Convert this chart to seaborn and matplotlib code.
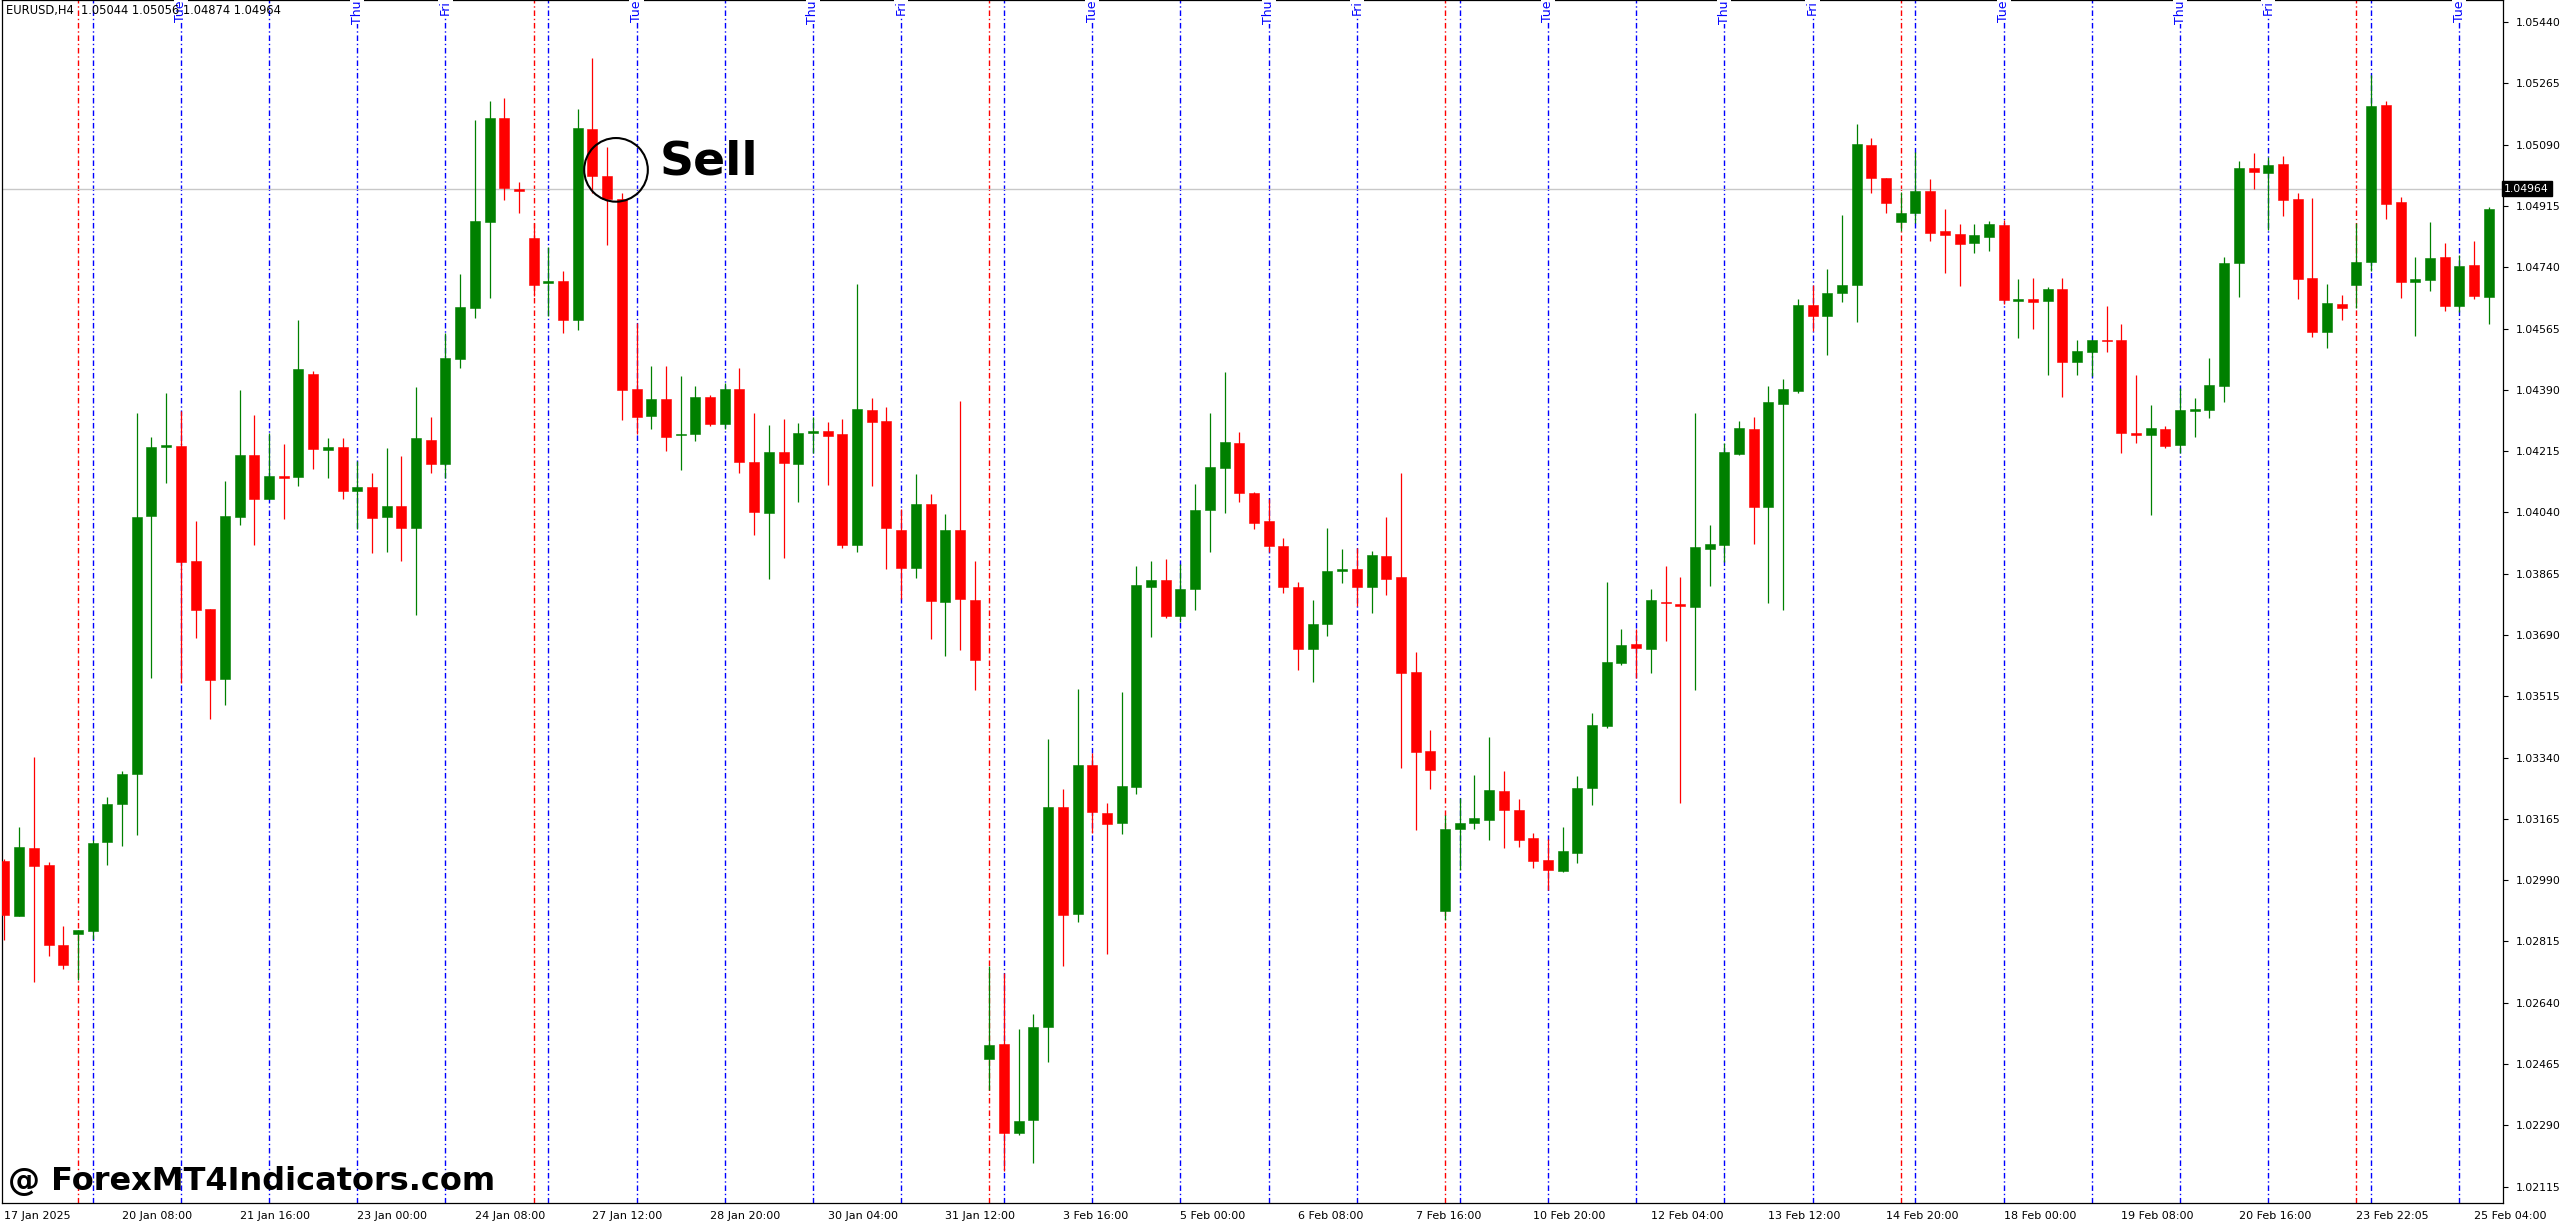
import numpy as np
import pandas as pd
import matplotlib
matplotlib.use("Agg")
import matplotlib.pyplot as plt
import matplotlib.transforms as mtransforms
import seaborn as sns

# EURUSD H4 candles (one entry per bar, left to right)
opens = [
    1.03044, 1.02888, 1.03081, 1.03032, 1.02806, 1.02837, 1.02846, 1.03098, 1.03206, 1.03292,
    1.04030, 1.04227, 1.04230, 1.03902, 1.03763, 1.03565, 1.04027, 1.04203, 1.04079, 1.04141,
    1.04140, 1.04435, 1.04219, 1.04226, 1.04101, 1.04113, 1.04028, 1.04057, 1.03996, 1.04248,
    1.04179, 1.04477, 1.04623, 1.04870, 1.05167, 1.04963, 1.04823, 1.04694, 1.04701, 1.04588,
    1.05136, 1.05001, 1.04936, 1.04393, 1.04316, 1.04364, 1.04260, 1.04264, 1.04370, 1.04293,
    1.04393, 1.04184, 1.04039, 1.04213, 1.04179, 1.04268, 1.04271, 1.04263, 1.03946, 1.04333,
    1.04301, 1.03991, 1.03881, 1.04063, 1.03784, 1.03989, 1.03789, 1.02479, 1.02522, 1.02267,
    1.02305, 1.02570, 1.03200, 1.02892, 1.03318, 1.03183, 1.03152, 1.03257, 1.03827, 1.03847,
    1.03745, 1.03822, 1.04048, 1.04166, 1.04239, 1.04096, 1.04014, 1.03945, 1.03827, 1.03649,
    1.03720, 1.03873, 1.03879, 1.03827, 1.03915, 1.03855, 1.03585, 1.03360, 1.02901, 1.03135,
    1.03152, 1.03163, 1.03244, 1.03191, 1.03111, 1.03048, 1.03017, 1.03068, 1.03253, 1.03431,
    1.03609, 1.03663, 1.03649, 1.03784, 1.03779, 1.03771, 1.03935, 1.03946, 1.04208, 1.04279,
    1.04056, 1.04349, 1.04386, 1.04633, 1.04601, 1.04666, 1.04689, 1.05089, 1.04994, 1.04869,
    1.04894, 1.04958, 1.04842, 1.04834, 1.04809, 1.04825, 1.04860, 1.04644, 1.04650, 1.04644,
    1.04677, 1.04468, 1.04498, 1.04533, 1.04533, 1.04268, 1.04262, 1.04278, 1.04233, 1.04330,
    1.04333, 1.04402, 1.04751, 1.05024, 1.05008, 1.05036, 1.04936, 1.04710, 1.04556, 1.04634,
    1.04688, 1.04756, 1.05202, 1.04926, 1.04699, 1.04704, 1.04768, 1.04630, 1.04747, 1.04656,
]
highs = [
    1.03050, 1.03143, 1.03342, 1.03041, 1.02858, 1.02848, 1.03105, 1.03227, 1.03301, 1.04323,
    1.04255, 1.04380, 1.04330, 1.04016, 1.03765, 1.04129, 1.04390, 1.04319, 1.04267, 1.04235,
    1.04589, 1.04445, 1.04253, 1.04253, 1.04186, 1.04151, 1.04225, 1.04201, 1.04398, 1.04313,
    1.04553, 1.04720, 1.05160, 1.05215, 1.05223, 1.04983, 1.04865, 1.04799, 1.04728, 1.05192,
    1.05337, 1.05083, 1.04952, 1.04580, 1.04458, 1.04458, 1.04428, 1.04400, 1.04375, 1.04410,
    1.04453, 1.04325, 1.04290, 1.04307, 1.04294, 1.04313, 1.04299, 1.04307, 1.04693, 1.04367,
    1.04342, 1.04051, 1.04150, 1.04093, 1.04034, 1.04359, 1.03900, 1.02745, 1.02724, 1.02565,
    1.02608, 1.03392, 1.03251, 1.03537, 1.03352, 1.03210, 1.03527, 1.03887, 1.03902, 1.03906,
    1.03893, 1.04120, 1.04324, 1.04442, 1.04270, 1.04098, 1.04077, 1.03966, 1.03840, 1.03791,
    1.03994, 1.03934, 1.03937, 1.03929, 1.04026, 1.04152, 1.03642, 1.03418, 1.03177, 1.03225,
    1.03290, 1.03399, 1.03302, 1.03221, 1.03124, 1.03108, 1.03143, 1.03288, 1.03468, 1.03842,
    1.03707, 1.03707, 1.03821, 1.03887, 1.03855, 1.04323, 1.04003, 1.04238, 1.04300, 1.04312,
    1.04402, 1.04420, 1.04650, 1.04690, 1.04735, 1.04890, 1.05149, 1.05110, 1.04996, 1.04956,
    1.05070, 1.04991, 1.04906, 1.04864, 1.04864, 1.04871, 1.04875, 1.04706, 1.04709, 1.04683,
    1.04709, 1.04531, 1.04533, 1.04630, 1.04577, 1.04433, 1.04347, 1.04287, 1.04394, 1.04366,
    1.04480, 1.04770, 1.05044, 1.05065, 1.05056, 1.05058, 1.04951, 1.04937, 1.04692, 1.04661,
    1.04866, 1.05290, 1.05215, 1.04940, 1.04768, 1.04870, 1.04808, 1.04775, 1.04815, 1.04911,
]
lows = [
    1.02818, 1.02888, 1.02698, 1.02773, 1.02736, 1.02706, 1.02823, 1.03032, 1.03088, 1.03118,
    1.03566, 1.04123, 1.03552, 1.03680, 1.03450, 1.03489, 1.04004, 1.03948, 1.04079, 1.04021,
    1.04116, 1.04163, 1.04139, 1.04079, 1.03993, 1.03925, 1.03927, 1.03900, 1.03748, 1.04151,
    1.04138, 1.04453, 1.04595, 1.04652, 1.04932, 1.04894, 1.04657, 1.04602, 1.04553, 1.04561,
    1.04952, 1.04804, 1.04304, 1.04264, 1.04277, 1.04214, 1.04160, 1.04245, 1.04288, 1.04277,
    1.04153, 1.03974, 1.03849, 1.03910, 1.04070, 1.04210, 1.04119, 1.03939, 1.03926, 1.04116,
    1.03878, 1.03794, 1.03854, 1.03679, 1.03631, 1.03647, 1.03532, 1.02390, 1.02159, 1.02262,
    1.02182, 1.02471, 1.02745, 1.02870, 1.03125, 1.02780, 1.03123, 1.03237, 1.03685, 1.03738,
    1.03726, 1.03762, 1.03928, 1.04039, 1.04070, 1.03993, 1.03926, 1.03809, 1.03589, 1.03556,
    1.03687, 1.03837, 1.03773, 1.03754, 1.03803, 1.03310, 1.03132, 1.03251, 1.02877, 1.03019,
    1.03137, 1.03105, 1.03082, 1.03085, 1.03024, 1.02961, 1.03013, 1.03038, 1.03204, 1.03423,
    1.03605, 1.03568, 1.03581, 1.03673, 1.03209, 1.03534, 1.03830, 1.03898, 1.04205, 1.03951,
    1.03782, 1.03760, 1.04380, 1.04557, 1.04488, 1.04642, 1.04583, 1.04952, 1.04896, 1.04842,
    1.04866, 1.04816, 1.04723, 1.04685, 1.04780, 1.04785, 1.04636, 1.04539, 1.04563, 1.04433,
    1.04368, 1.04431, 1.04428, 1.04499, 1.04209, 1.04238, 1.04033, 1.04223, 1.04209, 1.04256,
    1.04309, 1.04354, 1.04656, 1.04964, 1.04845, 1.04887, 1.04649, 1.04542, 1.04509, 1.04588,
    1.04623, 1.04729, 1.04878, 1.04651, 1.04544, 1.04671, 1.04616, 1.04613, 1.04649, 1.04577,
]
closes = [
    1.02891, 1.03085, 1.03030, 1.02805, 1.02749, 1.02848, 1.03097, 1.03207, 1.03294, 1.04028,
    1.04228, 1.04232, 1.03898, 1.03762, 1.03562, 1.04031, 1.04205, 1.04079, 1.04144, 1.04139,
    1.04449, 1.04221, 1.04226, 1.04101, 1.04112, 1.04024, 1.04057, 1.03996, 1.04252, 1.04177,
    1.04480, 1.04626, 1.04873, 1.05167, 1.04965, 1.04958, 1.04690, 1.04701, 1.04588, 1.05138,
    1.05001, 1.04936, 1.04389, 1.04313, 1.04364, 1.04256, 1.04264, 1.04370, 1.04293, 1.04393,
    1.04184, 1.04042, 1.04213, 1.04182, 1.04266, 1.04271, 1.04259, 1.03946, 1.04335, 1.04299,
    1.03994, 1.03880, 1.04063, 1.03787, 1.03989, 1.03792, 1.03619, 1.02520, 1.02267, 1.02303,
    1.02570, 1.03200, 1.02890, 1.03318, 1.03185, 1.03150, 1.03259, 1.03832, 1.03847, 1.03743,
    1.03822, 1.04048, 1.04169, 1.04242, 1.04095, 1.04011, 1.03945, 1.03827, 1.03651, 1.03721,
    1.03873, 1.03879, 1.03827, 1.03918, 1.03850, 1.03580, 1.03355, 1.03303, 1.03136, 1.03154,
    1.03167, 1.03248, 1.03191, 1.03105, 1.03045, 1.03019, 1.03074, 1.03254, 1.03433, 1.03612,
    1.03661, 1.03654, 1.03790, 1.03780, 1.03772, 1.03940, 1.03950, 1.04212, 1.04281, 1.04054,
    1.04355, 1.04392, 1.04633, 1.04601, 1.04666, 1.04690, 1.05091, 1.04995, 1.04922, 1.04894,
    1.04958, 1.04837, 1.04831, 1.04807, 1.04832, 1.04863, 1.04646, 1.04650, 1.04642, 1.04677,
    1.04468, 1.04500, 1.04533, 1.04529, 1.04266, 1.04262, 1.04281, 1.04230, 1.04333, 1.04336,
    1.04404, 1.04751, 1.05023, 1.05011, 1.05033, 1.04932, 1.04707, 1.04556, 1.04637, 1.04623,
    1.04755, 1.05199, 1.04920, 1.04699, 1.04706, 1.04766, 1.04628, 1.04744, 1.04659, 1.04906,
]

date_labels = ["17 Jan 2025", "20 Jan 08:00", "21 Jan 16:00", "23 Jan 00:00", "24 Jan 08:00",
               "27 Jan 12:00", "28 Jan 20:00", "30 Jan 04:00", "31 Jan 12:00", "3 Feb 16:00",
               "5 Feb 00:00", "6 Feb 08:00", "7 Feb 16:00", "10 Feb 20:00", "12 Feb 04:00",
               "13 Feb 12:00", "14 Feb 20:00", "18 Feb 00:00", "19 Feb 08:00", "20 Feb 16:00",
               "23 Feb 22:05", "25 Feb 04:00"]
date_bars = [0, 8, 16, 24, 32, 40, 48, 56, 64, 72, 80, 88, 96, 104, 112, 120,
             128, 136, 144, 152, 160, 168]

price_ticks = [1.02115, 1.02290, 1.02465, 1.02640, 1.02815, 1.02990, 1.03165, 1.03340,
               1.03515, 1.03690, 1.03865, 1.04040, 1.04215, 1.04390, 1.04565, 1.04740,
               1.04915, 1.05090, 1.05265, 1.05440]

week_bars = [5, 36, 67, 98, 129, 160]
day_bars = [6, 12, 18, 24, 30, 37, 43, 49, 55, 61, 68, 74, 80, 86, 92, 99, 105, 111,
            117, 123, 130, 136, 142, 148, 154, 161, 167]
day_tag_bars = [12, 24, 30, 43, 55, 61, 74, 86, 92, 105, 117, 123, 136, 148, 154, 167]
day_tag_names = ["Tue", "Thu", "Fri", "Tue", "Thu", "Fri", "Tue", "Thu", "Fri",
                 "Tue", "Thu", "Fri", "Tue", "Thu", "Fri", "Tue"]

last_price = 1.04964
header = "EURUSD,H4  1.05044 1.05056 1.04874 1.04964"
sell_bar, sell_price = 41.6, 1.05018

df = pd.DataFrame({"open": opens, "high": highs, "low": lows, "close": closes})
df["bar"] = np.arange(len(df))
df["up"] = df["close"] >= df["open"]
df["body_lo"] = df[["open", "close"]].min(axis=1)
df["body_h"] = (df["open"] - df["close"]).abs().clip(lower=0.00004)
df["color"] = np.where(df["up"], "#008000", "#ff0000")

sns.set_theme(style="white")
plt.rcParams["font.family"] = ["DejaVu Sans"]

W, H = 2560, 1223
fig = plt.figure(figsize=(W / 100, H / 100), dpi=100)
ax = fig.add_axes([2 / W, 20 / H, 2501 / W, 1203 / H])
ax.set_facecolor("white")

# day / week separators
for b in week_bars:
    ax.axvline(b, color="#ff0000", lw=1.0, ls=(0, (4, 2, 1, 2)), zorder=1)
for b in day_bars:
    ax.axvline(b, color="#0000ff", lw=1.0, ls=(0, (4, 2, 1, 2)), zorder=1)
ax.axhline(last_price, color="#c8c8c8", lw=1.0, zorder=1)

# candles
ax.vlines(df["bar"], df["low"], df["high"], colors=df["color"], lw=0.9, zorder=2)
ax.bar(df["bar"], df["body_h"], bottom=df["body_lo"], width=0.68,
       color=df["color"], edgecolor=df["color"], lw=0.4, zorder=3)

ax.set_xlim(-0.17, 169.97)
ax.set_ylim(1.02068, 1.05503)

ax.yaxis.tick_right()
ax.set_yticks(price_ticks)
ax.set_yticklabels([f"{p:.5f}" for p in price_ticks], fontsize=7.8)
ax.set_xticks(date_bars)
ax.set_xticklabels(date_labels, fontsize=8, ha="left")
ax.tick_params(axis="both", direction="out", length=3.5, width=0.8, colors="black",
               pad=2)
ax.tick_params(axis="y", pad=6)
for s in ax.spines.values():
    s.set_color("black")
    s.set_linewidth(0.9)

# day tags at top of separators
trans = mtransforms.blended_transform_factory(ax.transData, ax.transAxes)
for b, name in zip(day_tag_bars, day_tag_names):
    ax.text(b, 1.0, name, rotation=90, ha="center", va="top", fontsize=9,
            color="#0000ff", transform=trans, zorder=4,
            bbox=dict(boxstyle="square,pad=0.05", fc="white", ec="none"))

# last price box on the price scale
ytrans = mtransforms.blended_transform_factory(ax.transAxes, ax.transData)
ax.text(1.0005, last_price, f"{last_price:.5f}", ha="left", va="center", fontsize=7.8,
        color="white", transform=ytrans, clip_on=False, zorder=5,
        bbox=dict(boxstyle="square,pad=0.25", fc="black", ec="black"))

ax.text(0.0015, 0.997, header, transform=ax.transAxes, ha="left", va="top",
        fontsize=8.3, color="black", zorder=5)

# sell annotation
ax.scatter([sell_bar], [sell_price], s=2100, facecolors="none", edgecolors="black",
           linewidths=1.5, zorder=6)
ax.text(sell_bar + 3.0, sell_price + 0.00022, "Sell", ha="left", va="center",
        fontsize=34, fontweight="heavy", color="black", zorder=6)

fig.text(8 / W, 1 - 1182 / H, "@ ForexMT4Indicators.com", ha="left", va="center",
         fontsize=23, fontweight="bold", color="black")

fig.savefig("out.png", dpi=100, facecolor="white")
